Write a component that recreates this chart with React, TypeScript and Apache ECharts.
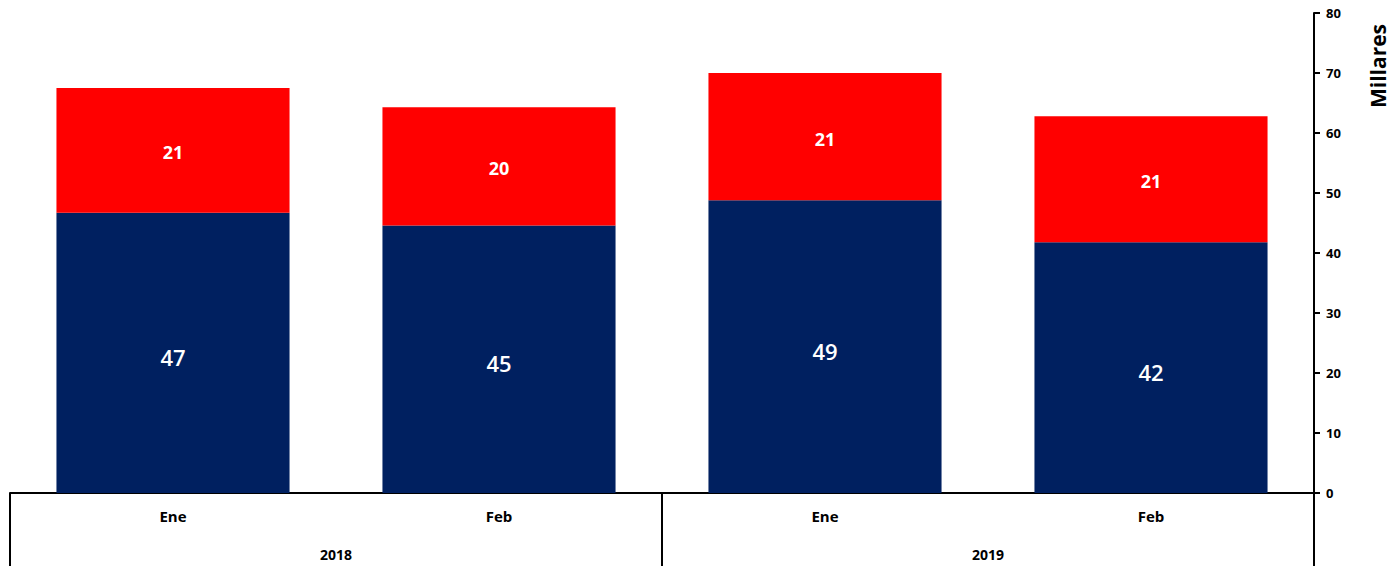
import React, { useEffect, useRef } from "react";
import * as echarts from "echarts";

const months = ["Ene", "Feb", "Ene", "Feb"];
const years = ["2018", "2019"];
const blueValues = [46.7, 44.6, 48.8, 41.8];
const redValues = [20.8, 19.7, 21.2, 21.0];
const yTicks = { min: 0, max: 80, interval: 10 };
const axisName = "Millares";

const FONT = "'Open Sans', 'Noto Sans', sans-serif";

export default function App() {
  const ref = useRef<HTMLDivElement>(null);
  useEffect(() => {
    if (!ref.current) return;
    const chart = echarts.init(ref.current, null, { renderer: "svg" });
    chart.setOption({
      animation: false,
      backgroundColor: "#ffffff",
      textStyle: { fontFamily: FONT },
      grid: { left: 10, right: 86, top: 13, bottom: 73, containLabel: false },
      xAxis: [
        {
          type: "category",
          data: months,
          position: "bottom",
          axisLine: { show: true, lineStyle: { color: "#000", width: 2 } },
          axisTick: { show: false },
          axisLabel: {
            color: "#000",
            fontSize: 15,
            fontWeight: "bold",
            fontFamily: FONT,
            margin: 15,
          },
        },
        {
          type: "category",
          data: years,
          position: "bottom",
          axisLine: { show: false },
          axisTick: { show: true, length: 76, lineStyle: { color: "#000", width: 2 } },
          axisLabel: {
            color: "#000",
            fontSize: 14,
            fontWeight: "bold",
            fontFamily: FONT,
            margin: 54,
          },
        },
      ],
      yAxis: {
        type: "value",
        position: "right",
        min: yTicks.min,
        max: yTicks.max,
        interval: yTicks.interval,
        splitLine: { show: false },
        axisLine: { show: true, lineStyle: { color: "#000", width: 2 } },
        axisTick: { show: true, length: 6, lineStyle: { color: "#000", width: 2 } },
        axisLabel: {
          color: "#000",
          fontSize: 13,
          fontWeight: "bold",
          fontFamily: FONT,
          margin: 12,
        },
      },
      graphic: [
        {
          type: "text",
          x: 1378,
          y: 66,
          rotation: Math.PI / 2,
          style: {
            text: axisName,
            fill: "#000",
            font: `bold 21px ${FONT}`,
            textAlign: "center",
            textVerticalAlign: "middle",
          },
        },
        {
          type: "line",
          shape: { x1: 1314, y1: 493, x2: 1314, y2: 566 },
          style: { stroke: "#000", lineWidth: 2 },
        },
      ],
      series: [
        {
          type: "bar",
          stack: "total",
          data: blueValues,
          barWidth: "71.5%",
          itemStyle: { color: "#002060" },
          label: {
            show: true,
            position: "inside",
            offset: [0, 4],
            color: "#fff",
            fontSize: 22,
            fontWeight: 600,
            fontFamily: FONT,
            formatter: (p: any) => String(Math.round(p.value)),
          },
        },
        {
          type: "bar",
          stack: "total",
          data: redValues,
          barWidth: "71.5%",
          itemStyle: { color: "#FF0000" },
          label: {
            show: true,
            position: "inside",
            offset: [0, 2],
            color: "#fff",
            fontSize: 18,
            fontWeight: "bold",
            fontFamily: FONT,
            formatter: (p: any) => String(Math.round(p.value)),
          },
        },
      ],
    });
    return () => chart.dispose();
  }, []);
  return (
    <div
      ref={ref}
      style={{ position: "fixed", left: 0, top: 0, width: 1400, height: 566, background: "#fff" }}
    />
  );
}
